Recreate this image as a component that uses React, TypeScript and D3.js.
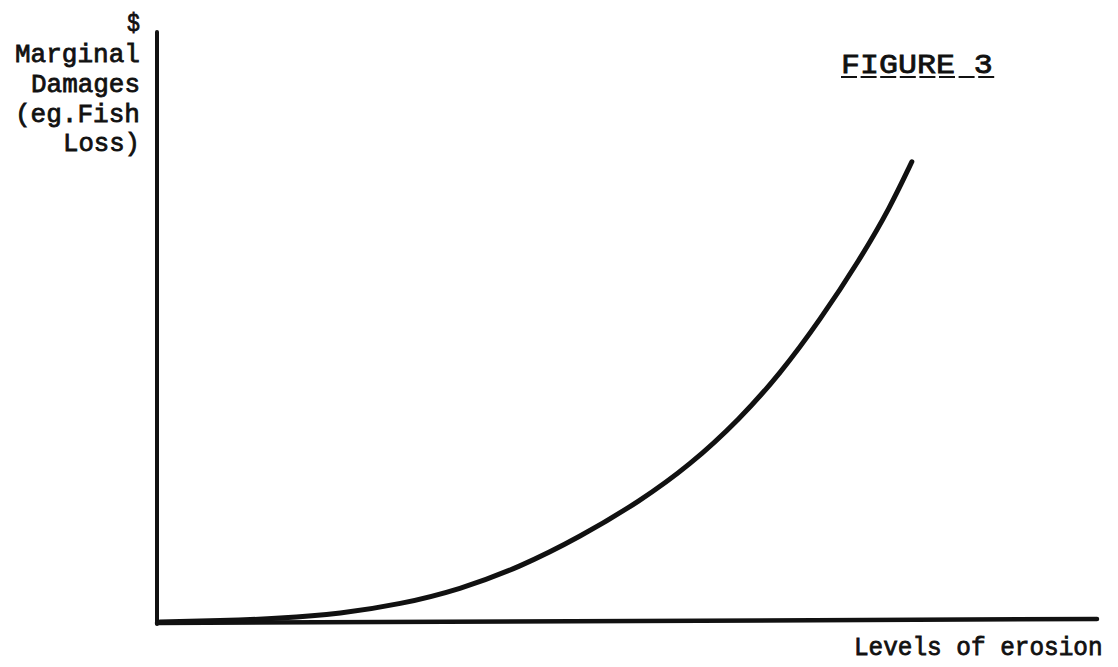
import React from "react";
import * as d3 from "d3";

// Curve readings (erosion level, marginal damages), arbitrary 0-100 units
const erosion = [0.3, 6.7, 13.1, 19.5, 25.9, 32.2, 38.6, 45.0, 51.4, 56.7, 62.0, 66.3, 70.5, 74.8, 78.0, 80.3];
const damages = [0.0, 0.2, 0.6, 1.4, 3.0, 5.5, 9.3, 14.4, 20.5, 26.6, 34.4, 42.1, 51.1, 61.5, 70.3, 78.0];

const yLabelLines = ["$", "Marginal", "Damages", "(eg.Fish", "Loss)"];
const xLabel = "Levels of erosion";
const figureTitle = "FIGURE 3";

const W = 1118;
const H = 667;

export default function App() {
  const x = d3.scaleLinear().domain([0, 100]).range([157, 1097]);
  const y = d3.scaleLinear().domain([0, 100]).range([622, 32]);

  const pts: [number, number][] = erosion.map((e, i) => [e, damages[i]]);
  const line = d3
    .line<[number, number]>()
    .x((d) => x(d[0]))
    .y((d) => y(d[1]))
    .curve(d3.curveBasis);

  const font = "'Liberation Mono', 'Courier New', monospace";
  const ink = "#111";
  const yLabelBaselines = [31, 62, 92, 122, 151];
  const adv = 16;

  const titleX = 841;
  const titleAdv = 19.6;

  const textStyle = {
    fontFamily: font,
    fontWeight: 400 as const,
    fill: ink,
    stroke: ink,
    strokeWidth: 0.8,
  };

  return (
    <div style={{ position: "fixed", left: 0, top: 0 }}>
      <svg width={W} height={H} style={{ display: "block", background: "#fff" }}>
        <rect width={W} height={H} fill="#fff" />
        {/* axes */}
        <line x1={x(0)} y1={y(0) + 2} x2={x(0)} y2={y(100)} stroke={ink} strokeWidth={4} strokeLinecap="round" />
        <line x1={x(0)} y1={y(0) + 1} x2={x(100)} y2={y(0) - 3} stroke={ink} strokeWidth={4.5} strokeLinecap="round" />
        {/* curve */}
        <path d={line(pts) || ""} fill="none" stroke={ink} strokeWidth={5} strokeLinecap="round" />

        {/* y-axis label */}
        {yLabelLines.map((t, i) => (
          <text
            key={t}
            x={140}
            y={yLabelBaselines[i]}
            textAnchor="end"
            fontSize={26}
            textLength={t.length * adv - 3}
            lengthAdjust="spacingAndGlyphs"
            style={textStyle}
          >
            {t}
          </text>
        ))}

        {/* x-axis label */}
        <text
          x={854}
          y={655}
          fontSize={26}
          textLength={xLabel.length * 14.8 - 3}
          lengthAdjust="spacingAndGlyphs"
          style={textStyle}
        >
          {xLabel}
        </text>

        {/* figure title, typed underline */}
        <text
          x={titleX}
          y={73}
          fontSize={28}
          textLength={figureTitle.length * titleAdv - 5}
          lengthAdjust="spacingAndGlyphs"
          style={textStyle}
        >
          {figureTitle}
        </text>
        <line
          x1={titleX}
          y1={77}
          x2={titleX + figureTitle.length * titleAdv - 3}
          y2={77}
          stroke={ink}
          strokeWidth={2}
          strokeDasharray="16 3.6"
        />
      </svg>
    </div>
  );
}
